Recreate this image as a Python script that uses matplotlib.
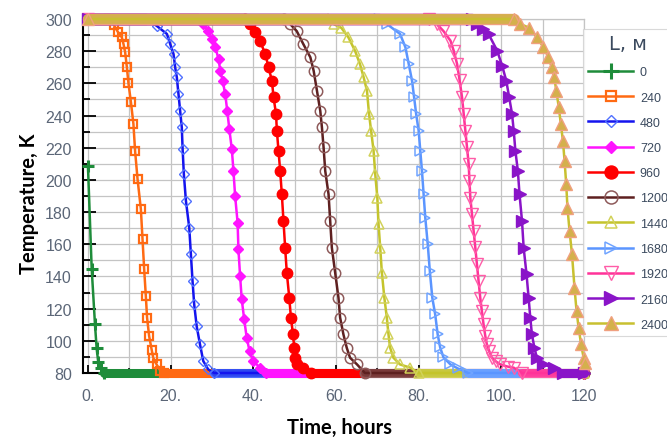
import matplotlib
matplotlib.use('Agg')
import matplotlib.pyplot as plt
import matplotlib.patheffects as pe
from matplotlib.ticker import MultipleLocator

# readings: time (hours), temperature (K)
t_0 = [0.0, 0.9, 1.7, 2.1, 2.5, 3.2, 4.0, 120.0]
T_0 = [208.5, 144.9, 110.2, 95.3, 86.6, 82.8, 80.0, 80.0]

t_240 = [0.0, 5.0, 6.2, 7.3, 8.2, 8.6, 9.0, 9.4, 9.8, 10.4, 11.0, 11.4, 12.0, 12.8, 13.2,
         13.6, 14.0, 14.3, 14.8, 15.4, 15.8, 16.6, 17.5, 18.5, 120.0]
T_240 = [300, 300, 296.5, 291.7, 288.6, 284.4, 279.3, 270.3, 260.0, 248.2, 234.7, 218.0, 200.4, 181.8, 163.1,
         144.4, 127.8, 114.4, 102.9, 94.6, 89.4, 85.3, 81.5, 80, 80]

t_480 = [0.0, 14.0, 16.6, 19.1, 19.9, 20.7, 21.1, 21.5, 21.9, 22.3, 22.7, 22.9, 23.2, 23.7, 24.5,
         24.9, 25.3, 25.7, 26.3, 27.1, 27.9, 29.1, 30.5, 120.0]
T_480 = [300, 300, 295.8, 290.7, 284.4, 278.2, 269.9, 263.7, 253.3, 242.9, 232.6, 219.1, 203.5, 186.9, 170.4,
         153.7, 137.1, 122.6, 109.1, 97.8, 87.4, 82.2, 80, 80]

t_720 = [0.0, 26.5, 27.9, 29.0, 29.9, 30.8, 31.6, 32.0, 32.6, 33.2, 33.7, 34.2, 34.8, 35.2, 35.6,
         36.2, 36.4, 36.8, 37.2, 37.8, 38.4, 39.1, 40.0, 41.6, 43.0, 120.0]
T_720 = [300, 300, 296.9, 292.5, 287.6, 282.4, 275.1, 267.8, 261.6, 253.3, 242.9, 231.5, 219.1, 205.6, 190.0,
         173.5, 156.9, 140.3, 125.8, 113.3, 101.9, 93.6, 87.4, 83.3, 80, 80]

t_960 = [0.0, 38.0, 39.2, 40.5, 41.6, 42.9, 43.7, 44.5, 44.9, 45.5, 45.7, 46.1, 46.5, 46.9, 47.3,
         47.7, 48.1, 48.7, 49.1, 49.6, 49.9, 50.1, 50.5, 52.1, 54.0, 120.0]
T_960 = [300, 300, 296.9, 292.0, 286.5, 278.2, 269.9, 261.6, 251.3, 240.9, 230.5, 218.0, 205.6, 191.1, 174.5,
         157.9, 142.4, 126.8, 114.4, 104.0, 95.7, 89.5, 85.3, 83.3, 80, 80]

t_1200 = [0.0, 47.5, 48.9, 50.5, 52.1, 53.8, 54.6, 55.4, 56.2, 56.6, 57.0, 57.4, 58.2, 58.6, 59.0,
          59.8, 60.6, 61.0, 61.8, 62.6, 63.4, 65.1, 67.0, 120.0]
T_1200 = [300, 300, 296.9, 292.5, 284.4, 276.2, 267.8, 255.4, 242.9, 232.6, 220.2, 205.6, 191.1, 174.5, 157.9,
          142.4, 126.8, 114.4, 104.0, 95.7, 89.5, 85.3, 80, 80]

t_1440 = [0.0, 58.0, 59.4, 61.3, 63.0, 64.6, 65.8, 66.7, 67.5, 68.0, 68.5, 69.1, 69.5, 70.0, 70.3,
          70.7, 71.1, 71.7, 72.3, 72.7, 73.1, 73.9, 75.5, 78.0, 80.0, 120.0]
T_1440 = [300, 300, 296.9, 294.5, 288.6, 280.3, 272.0, 263.7, 255.4, 240.9, 230.5, 218.0, 203.5, 189.0, 172.4,
          157.9, 142.4, 126.8, 114.4, 104.0, 95.7, 89.5, 85.3, 83.3, 80, 80]

t_1680 = [0.0, 70.5, 72.3, 75.5, 76.8, 77.6, 78.4, 78.9, 79.4, 80.0, 80.4, 80.8, 81.2, 81.6, 82.2,
          82.7, 83.3, 84.0, 84.6, 85.2, 86.0, 87.7, 89.5, 92.0, 120.0]
T_1680 = [300, 300, 296.9, 290.7, 282.4, 272.0, 261.6, 251.3, 240.9, 230.5, 218.0, 205.6, 191.1, 176.6, 160.0,
          143.4, 126.8, 116.4, 104.0, 95.9, 89.7, 85.3, 82.8, 80, 80]

t_1920 = [0.0, 82.5, 84.4, 86.0, 87.7, 88.5, 89.3, 89.9, 90.5, 90.9, 91.3, 91.7, 92.1, 92.3, 92.5,
          92.9, 93.3, 93.7, 94.1, 94.5, 94.9, 95.3, 95.7, 96.1, 96.5, 97.1, 97.7, 98.7, 99.8,
          101.5, 103.0, 105.0, 120.0]
T_1920 = [300, 300, 296.9, 292.5, 286.5, 280.1, 272.0, 262.0, 251.3, 240.9, 230.5, 220.3, 209.8, 199.2, 189.0,
          178.7, 168.3, 158.1, 147.5, 137.0, 126.8, 118.3, 110.2, 103.3, 97.8, 93.4, 89.5, 87.2, 85.3,
          84.0, 83.3, 80, 80]

t_2160 = [0.0, 93.0, 94.1, 95.5, 96.9, 99.0, 100.2, 101.2, 101.9, 102.6, 103.0, 103.4, 104.0, 104.4, 105.0,
          105.4, 106.1, 106.6, 107.0, 107.4, 108.0, 108.6, 110.2, 112.7, 115.0, 120.0]
T_2160 = [300, 300, 296.9, 294.0, 290.7, 280.3, 270.9, 261.6, 251.3, 240.9, 230.5, 218.0, 205.6, 191.1, 174.5,
          157.9, 141.3, 126.8, 114.4, 104.0, 95.7, 89.5, 85.3, 83.3, 80, 80]

t_2400 = [0.0, 103.0, 104.6, 106.8, 108.6, 110.2, 111.4, 112.2, 112.8, 113.3, 113.9, 114.4, 114.9, 115.3,
          115.7, 116.0, 116.5, 117.1, 117.7, 118.2, 118.7, 119.3, 119.9, 120.2]
T_2400 = [300, 300, 296.9, 294.5, 288.6, 282.4, 276.2, 269.9, 263.7, 255.4, 245.1, 234.7, 224.3, 211.8,
          197.3, 182.8, 168.3, 153.8, 133.0, 118.5, 108.1, 97.8, 89.5, 86.5]

labels = ['0', '240', '480', '720', '960', '1200', '1440', '1680', '1920', '2160', '2400']
series = [(t_0, T_0), (t_240, T_240), (t_480, T_480), (t_720, T_720), (t_960, T_960),
          (t_1200, T_1200), (t_1440, T_1440), (t_1680, T_1680), (t_1920, T_1920),
          (t_2160, T_2160), (t_2400, T_2400)]

xticks = [0, 20, 40, 60, 80, 100, 120]
xticklabels = ['0.', '20.', '40.', '60.', '80.', '100.', '120']
yticks = [80, 100, 120, 140, 160, 180, 200, 220, 240, 260, 280, 300]

# line color, marker, size, face, edge, edge width, band color
styles = [
    ('#1e8c3a', '+', 9, '#1e8c3a', '#1e8c3a', 2.2, '#1e8c3a'),
    ('#ff6a13', 's', 6.0, 'none', '#ff6a13', 1.6, '#ff6a13'),
    ('#1414ee', 'D', 5.0, 'none', '#5070ff', 1.0, '#3048f0'),
    ('#ff14ff', 'D', 4.8, '#ff14ff', '#ff14ff', 1.0, '#ff14ff'),
    ('#ff0000', 'o', 7.5, '#ff0000', '#ff0000', 1.0, '#ff0000'),
    ('#5e2020', 'o', 7.5, 'none', '#8e5a5a', 1.1, '#7a3a3a'),
    ('#c4c42c', '^', 7.0, 'none', '#d2d25a', 1.1, '#c8c840'),
    ('#5b95ff', '>', 7.0, 'none', '#70a4ff', 1.1, '#6aa0ff'),
    ('#ff3399', 'v', 8.0, 'none', '#ff5ca8', 1.0, '#ff3d9e'),
    ('#8a14c8', '>', 8.0, '#8a14c8', '#8a14c8', 1.0, '#8a14c8'),
    ('#c8c030', '^', 8.0, '#d4b04c', '#f0a080', 1.0, '#d4b04c'),
]

fig = plt.figure(figsize=(6.67, 4.39), dpi=100)
ax = fig.add_axes([83 / 667, 65 / 439, 501 / 667, 354 / 439])

handles = []
z = 3
for (t, T), st in zip(series, styles):
    lc, mk, ms, mfc, mec, mew, band = st
    # the flat parts are covered by packed markers in the original
    if T[0] == 300:
        ax.plot(t[:2], T[:2], color=band, lw=7, solid_capstyle='round', clip_on=False, zorder=z,
                path_effects=[pe.Stroke(linewidth=8.2, foreground=mec), pe.Normal()])
    if T[-1] == 80:
        ax.plot(t[-2:], T[-2:], color=band, lw=5.5, solid_capstyle='round', clip_on=False, zorder=z,
                path_effects=[pe.Stroke(linewidth=6.5, foreground=mec), pe.Normal()])
    h, = ax.plot(t, T, color=lc, lw=1.8, marker=mk, ms=ms, mfc=mfc, mec=mec, mew=mew,
                 clip_on=False, zorder=z + 0.5)
    handles.append(h)
    z += 1

ax.set_xlim(-1.2, 120)
ax.set_ylim(80, 300)

ax.xaxis.set_major_locator(MultipleLocator(20))
ax.xaxis.set_minor_locator(MultipleLocator(10))
ax.yaxis.set_major_locator(MultipleLocator(20))
ax.yaxis.set_minor_locator(MultipleLocator(10))
ax.set_xticks(xticks)
ax.set_xticklabels(xticklabels)
ax.set_yticks(yticks)
ax.grid(which='both', color='#c4c4c4', lw=0.9, zorder=0)
ax.set_axisbelow(True)

ax.tick_params(axis='y', which='major', direction='in', length=9, width=1.3, pad=8,
               labelsize=11.5, labelcolor='#5b6677')
ax.tick_params(axis='y', which='minor', direction='in', length=5, width=1.3)
ax.tick_params(axis='x', which='major', direction='in', length=6, width=1.3, pad=11,
               labelsize=11.5, labelcolor='#5b6677')
ax.tick_params(axis='x', which='minor', direction='in', length=3.5, width=1.1)
for lab in ax.get_xticklabels() + ax.get_yticklabels():
    lab.set_fontfamily('Liberation Sans')

for s in ['left', 'bottom']:
    ax.spines[s].set_color('black')
    ax.spines[s].set_linewidth(1.5)
for s in ['top', 'right']:
    ax.spines[s].set_color('#c4c4c4')
    ax.spines[s].set_linewidth(0.9)

ax.set_xlabel('Time, hours', fontfamily='Lato', fontweight='bold', fontsize=14.5, labelpad=9.5)
ax.xaxis.label.set_x(0.512)
ax.set_ylabel('Temperature, K', fontfamily='Lato', fontweight='bold', fontsize=14.5, labelpad=4.5)
ax.yaxis.label.set_y(0.482)

leg = ax.legend(handles, labels, loc='upper left', bbox_to_anchor=(583 / 667, 1 - 30 / 439),
                bbox_transform=fig.transFigure, frameon=True, fancybox=False, edgecolor='#d0d0d0',
                fontsize=9, title='L, м', title_fontsize=14, handlelength=3.6, labelspacing=1.06,
                borderpad=0.4, handletextpad=0.55, markerscale=1.25, borderaxespad=0)
leg.get_frame().set_linewidth(0.8)
leg.get_title().set_color('#3b4a5e')
for txt in leg.get_texts():
    txt.set_color('#3b4a5e')
    txt.set_fontfamily('Liberation Sans')

fig.savefig('out.png', dpi=100)
